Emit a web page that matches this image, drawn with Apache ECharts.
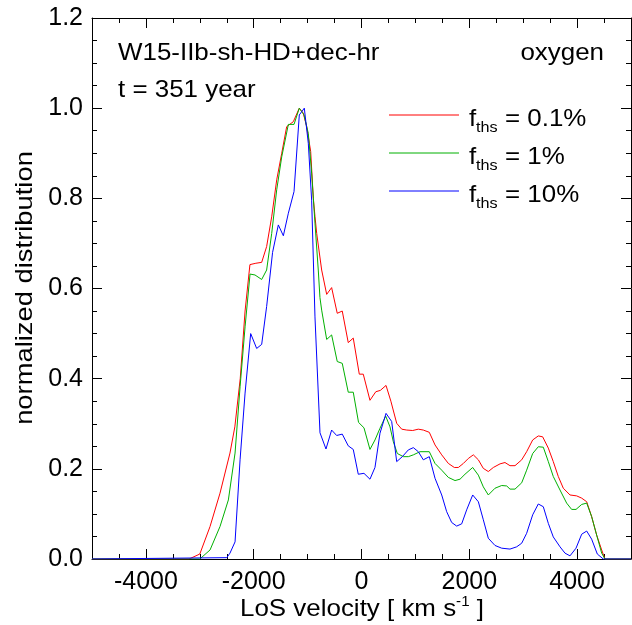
<!DOCTYPE html>
<html>
<head>
<meta charset="utf-8">
<script src="https://cdn.jsdelivr.net/npm/echarts@6/dist/echarts.min.js"></script>
<style>
html,body{margin:0;padding:0;background:#fff;}
#chart{width:632px;height:625px;}
</style>
</head>
<body>
<div id="chart"></div>
<script>
// ---- data ----
const redV = [-5000,-3200,-3000,-2810,-2625,-2440,-2350,-2250,-2160,-2070,-1960,-1852,-1760,-1666,-1573,-1480,-1388,-1265,-1154,-1080,-1017,-943,-894,-863,-831,-739,-646,-554,-450,-357,-246,-153,-41,33,157,265,350,455,545,653,746,839,950,1054,1147,1258,1364,1488,1611,1722,1797,1890,1982,2075,2168,2260,2353,2446,2570,2662,2755,2848,2972,3064,3176,3280,3361,3466,3558,3651,3744,3868,3992,4085,4178,4270,4363,4456,4517,5000];
const redY = [0,0,0.011,0.072,0.146,0.235,0.293,0.40,0.55,0.653,0.656,0.658,0.693,0.759,0.841,0.90,0.959,0.970,1.0,0.989,0.959,0.904,0.80,0.76,0.722,0.641,0.587,0.602,0.545,0.550,0.480,0.490,0.410,0.410,0.352,0.371,0.374,0.385,0.350,0.301,0.288,0.286,0.285,0.288,0.286,0.281,0.253,0.231,0.212,0.203,0.203,0.212,0.223,0.231,0.220,0.201,0.194,0.203,0.211,0.214,0.207,0.207,0.220,0.238,0.264,0.273,0.271,0.246,0.216,0.183,0.157,0.142,0.140,0.135,0.127,0.094,0.053,0.020,0,0];

const greenV = [-5000,-3000,-2810,-2625,-2470,-2346,-2253,-2160,-2068,-1976,-1852,-1760,-1666,-1573,-1480,-1357,-1252,-1154,-1067,-987,-925,-863,-802,-771,-739,-646,-554,-450,-357,-246,-153,-55,46,157,250,343,449,529,591,665,777,869,962,1086,1258,1364,1488,1611,1735,1828,1920,2063,2168,2260,2353,2477,2601,2694,2755,2848,2972,3064,3176,3280,3373,3466,3558,3683,3806,3899,3980,4085,4178,4270,4363,4456,4517,5000];
const greenY = [0,0,0.02,0.072,0.131,0.235,0.382,0.515,0.632,0.630,0.620,0.641,0.722,0.819,0.892,0.964,0.964,1.0,0.985,0.944,0.856,0.745,0.641,0.58,0.552,0.487,0.497,0.438,0.434,0.370,0.370,0.303,0.291,0.243,0.264,0.290,0.317,0.293,0.260,0.234,0.227,0.227,0.231,0.238,0.238,0.212,0.197,0.181,0.174,0.177,0.188,0.203,0.186,0.160,0.142,0.157,0.163,0.162,0.155,0.155,0.169,0.197,0.234,0.249,0.248,0.216,0.183,0.153,0.124,0.110,0.110,0.121,0.124,0.094,0.053,0.013,0,0];

const blueV = [-5000,-2500,-2440,-2346,-2253,-2160,-2056,-1945,-1852,-1760,-1650,-1543,-1450,-1357,-1252,-1154,-1110,-1061,-987,-925,-863,-770,-659,-554,-461,-357,-246,-153,-60,46,157,250,343,455,560,653,758,869,962,1054,1147,1258,1364,1488,1580,1673,1766,1859,1951,2063,2168,2260,2353,2477,2601,2755,2879,2972,3064,3176,3280,3373,3466,3558,3683,3775,3868,3980,4085,4178,4270,4375,4486,5000];
const blueY = [0,0.003,0.013,0.038,0.22,0.368,0.50,0.467,0.476,0.56,0.68,0.741,0.717,0.767,0.815,0.985,0.992,1.0,0.922,0.796,0.537,0.28,0.244,0.286,0.274,0.277,0.251,0.243,0.188,0.190,0.177,0.203,0.279,0.323,0.305,0.216,0.227,0.242,0.247,0.238,0.220,0.227,0.179,0.142,0.105,0.081,0.073,0.078,0.109,0.142,0.127,0.087,0.046,0.030,0.024,0.022,0.027,0.035,0.057,0.098,0.122,0.116,0.079,0.049,0.027,0.013,0.007,0.024,0.055,0.062,0.044,0.011,0,0];

const seriesNames = ['0.1%', '1%', '10%'];
const seriesColors = ['#ff0000', '#00b000', '#0000ff'];
const xMin = -5000, xMax = 5000, xMajorStart = -4000, xMajorStep = 2000, xMinorStep = 500;
const yMin = 0, yMax = 1.2, yStep = 0.2;
const titleText = 'W15-IIb-sh-HD+dec-hr';
const elementText = 'oxygen';
const timeText = 't = 351 year';
const xTitle = ['LoS velocity [ km s', '-1', ' ]'];
const yTitle = 'normalized distribution';

// ---- chart ----
const FONT = "'Liberation Sans', Arial, Helvetica, sans-serif";
const FS = 24;
const SX = 1.08;
const pairs = (v, y) => v.map((x, i) => [x, y[i]]);
const allSeries = [pairs(redV, redY), pairs(greenV, greenY), pairs(blueV, blueY)];

const chart = echarts.init(document.getElementById('chart'), null, {renderer: 'canvas'});
const black = '#000';

// plot box
const G = {left: 92, right: 1, top: 18, bottom: 66};
const plotW = 632 - G.left - G.right;
// second grid: same scale, but starting at the first major tick so that ticks count from -4000
const G2 = {left: G.left + plotW * (xMajorStart - xMin) / (xMax - xMin), right: G.right, top: G.top, bottom: G.bottom};

const minorX = (pos) => ({
  type: 'value', gridIndex: 0, position: pos, min: xMin, max: xMax, interval: xMinorStep,
  axisLine: {show: true, onZero: false, lineStyle: {color: black, width: 1}},
  axisTick: {show: true, inside: true, length: 5, lineStyle: {color: black, width: 1}},
  axisLabel: {show: false}, splitLine: {show: false}
});
const majorX = (pos, labels) => ({
  type: 'value', gridIndex: 1, position: pos, min: xMajorStart, max: xMax, interval: xMajorStep,
  axisLine: {show: false, onZero: false},
  axisTick: {show: true, inside: true, length: 10, lineStyle: {color: black, width: 1}},
  axisLabel: labels ? {show: true, margin: 11, color: black, fontSize: 25, fontFamily: FONT,
    showMaxLabel: false, formatter: v => (v > xMax - xMajorStep / 2 ? '' : String(v))} : {show: false},
  splitLine: {show: false}
});
function yAx(pos, showLabel) {
  return {
    type: 'value', gridIndex: 0, position: pos, min: yMin, max: yMax, interval: yStep,
    axisLine: {show: true, onZero: false, lineStyle: {color: black, width: 1}},
    axisTick: {show: true, inside: true, length: 10, lineStyle: {color: black, width: 1}},
    minorTick: {show: true, splitNumber: 4, length: 5, lineStyle: {color: black, width: 1}},
    axisLabel: {show: showLabel, margin: 9, color: black, fontSize: 25, fontFamily: FONT,
      formatter: v => v.toFixed(1)},
    splitLine: {show: false}, minorSplitLine: {show: false}
  };
}

const txt = (x, y, text, extra) => Object.assign({
  type: 'text', x: x, y: y, scaleX: SX, z: 10,
  style: {text: text, font: `${FS}px ${FONT}`, fill: black, verticalAlign: 'middle'}
}, extra || {});

const graphics = [
  txt(118, 53, titleText),
  txt(604, 53, elementText, {style: {text: elementText, font: `${FS}px ${FONT}`, fill: black, verticalAlign: 'middle', align: 'right'}}),
  txt(118, 90, timeText),
  {type: 'text', x: 362, y: 609, scaleX: SX, z: 10, style: {
    text: '{a|' + xTitle[0] + '}{b|' + xTitle[1] + '}{a|' + xTitle[2] + '}',
    align: 'center', verticalAlign: 'middle',
    rich: {
      a: {fontSize: FS, fontFamily: FONT, fill: black, lineHeight: 28},
      b: {fontSize: 14, fontFamily: FONT, fill: black, verticalAlign: 'top', lineHeight: 14}
    }
  }},
  {type: 'text', x: 25, y: 288, rotation: Math.PI / 2, scaleX: 1.14, z: 10, style: {
    text: yTitle, font: `${FS}px ${FONT}`, fill: black, align: 'center', verticalAlign: 'middle'
  }}
];
const legendY = [115, 153, 191];
seriesNames.forEach((n, i) => {
  const y = legendY[i];
  graphics.push({type: 'line', shape: {x1: 389, y1: y, x2: 459, y2: y}, style: {stroke: seriesColors[i], lineWidth: 1}});
  graphics.push(txt(469, y + 4, 'f'));
  graphics.push({type: 'text', x: 476, y: y + 13, scaleX: SX, style: {text: 'ths', font: `15px ${FONT}`, fill: black, verticalAlign: 'middle'}});
  graphics.push(txt(505, y + 4, '= ' + n));
});

chart.setOption({
  animation: false,
  backgroundColor: '#fff',
  grid: [Object.assign({containLabel: false}, G), Object.assign({containLabel: false}, G2)],
  xAxis: [minorX('bottom'), minorX('top'), majorX('bottom', true), majorX('top', false)],
  yAxis: [yAx('left', true), yAx('right', false),
          {type: 'value', gridIndex: 1, min: yMin, max: yMax, show: false}],
  series: allSeries.map((d, i) => ({
    type: 'line', name: seriesNames[i], data: d, xAxisIndex: 0, yAxisIndex: 0,
    showSymbol: false, symbol: 'none', smooth: false,
    lineStyle: {color: seriesColors[i], width: 1}, itemStyle: {color: seriesColors[i]}
  })),
  graphic: graphics
});
</script>
</body>
</html>
